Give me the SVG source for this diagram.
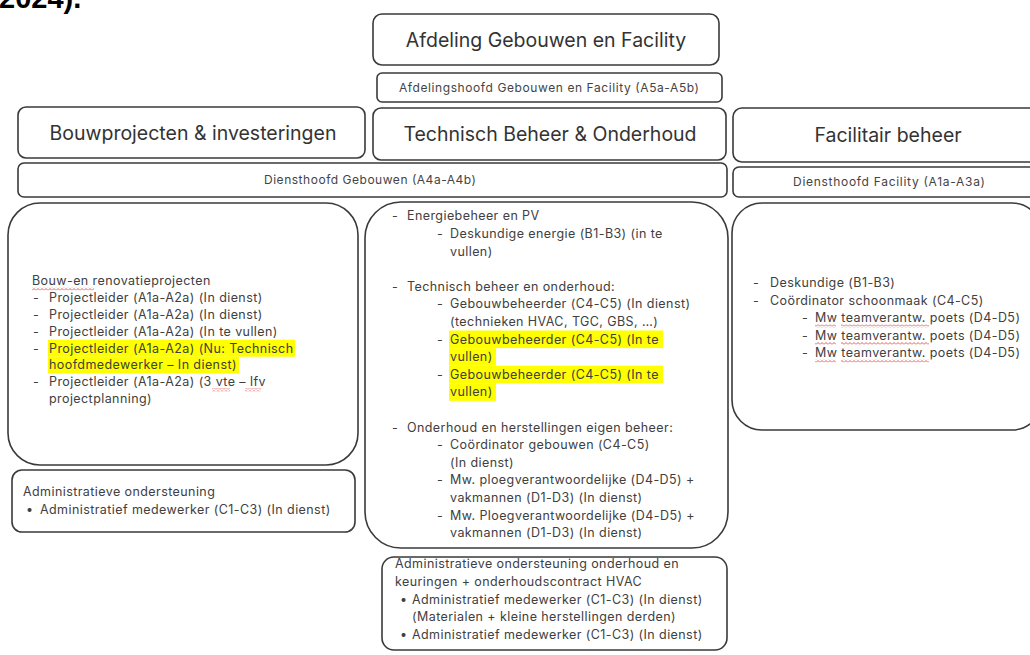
<svg xmlns="http://www.w3.org/2000/svg" width="1030" height="655" viewBox="0 0 1030 655">
<style>
  .box{fill:#fff;stroke:#3a3a3a;stroke-width:1.6}
  .title{font-family:Inter,"Liberation Sans",sans-serif;font-size:19.5px;fill:#333;text-anchor:middle}
  .small{font-family:Inter,"Liberation Sans",sans-serif;font-size:12px;fill:#444;text-anchor:middle}
  .t{font-family:Inter,"Liberation Sans",sans-serif;font-size:12.5px;fill:#404040;letter-spacing:0.42px}
  .hl{fill:#ffff00}
  .sq{fill:url(#squig)}
</style>
<defs>
  <pattern id="squig" x="0" y="0" width="4" height="3" patternUnits="userSpaceOnUse">
    <path d="M0,2.5 L2,0.5 L4,2.5" fill="none" stroke="#e03030" stroke-width="0.8"/>
  </pattern>
</defs>
<rect x="0" y="0" width="1030" height="655" fill="#fff"/>
<text x="-1" y="8" font-family="Liberation Sans, sans-serif" font-size="29" font-weight="bold" fill="#000">2024).</text>

<g id="connectors"></g>

<g id="n-afdeling">
  <rect class="box" x="373" y="14" width="346" height="51" rx="9"/>
  <text class="title" x="546" y="47">Afdeling Gebouwen en Facility</text>
</g>
<g id="n-afdelingshoofd">
  <rect class="box" x="377" y="73" width="345" height="29" rx="5"/>
  <text class="small" x="549" y="92" textLength="300" lengthAdjust="spacing">Afdelingshoofd Gebouwen en Facility (A5a-A5b)</text>
</g>
<g id="n-bouwprojecten">
  <rect class="box" x="18" y="107" width="347" height="51" rx="8"/>
  <text class="title" x="193" y="140">Bouwprojecten &amp; investeringen</text>
</g>
<g id="n-technisch">
  <rect class="box" x="373" y="108" width="353" height="52" rx="8"/>
  <text class="title" x="550" y="141">Technisch Beheer &amp; Onderhoud</text>
</g>
<g id="n-facilitair">
  <rect class="box" x="733" y="108" width="310" height="54" rx="9"/>
  <text class="title" x="888" y="142">Facilitair beheer</text>
</g>
<g id="n-diensthoofd-gebouwen">
  <rect class="box" x="18" y="163" width="709" height="34" rx="6"/>
  <text class="small" x="370" y="184" textLength="212" lengthAdjust="spacing">Diensthoofd Gebouwen (A4a-A4b)</text>
</g>
<g id="n-diensthoofd-facility">
  <rect class="box" x="733" y="167" width="310" height="30" rx="6"/>
  <text class="small" x="889" y="186" textLength="192" lengthAdjust="spacing">Diensthoofd Facility (A1a-A3a)</text>
</g>

<g id="n-bouw-renovatie">
  <rect class="box" x="8" y="203" width="350" height="262" rx="32"/>
  <rect class="hl" x="48" y="339.7" width="247" height="17"/>
  <rect class="hl" x="48" y="356.5" width="191" height="17"/>
  <text class="t" x="32" y="285.3">Bouw-en renovatieprojecten</text>
  <rect class="sq" x="32" y="287.5" width="62" height="3"/>
  <text class="t" x="33" y="302.1">-</text><text class="t" x="49" y="302.1">Projectleider (A1a-A2a) (In dienst)</text>
  <text class="t" x="33" y="318.9">-</text><text class="t" x="49" y="318.9">Projectleider (A1a-A2a) (In dienst)</text>
  <text class="t" x="33" y="335.7">-</text><text class="t" x="49" y="335.7">Projectleider (A1a-A2a) (In te vullen)</text>
  <text class="t" x="33" y="352.5">-</text><text class="t" x="49" y="352.5">Projectleider (A1a-A2a) (Nu: Technisch</text>
  <text class="t" x="49" y="369.3">hoofdmedewerker – In dienst)</text>
  <text class="t" x="33" y="386.1">-</text><text class="t" x="49" y="386.1">Projectleider (A1a-A2a) (3 vte – lfv</text>
  <rect class="sq" x="212" y="388.3" width="18" height="3"/>
  <rect class="sq" x="245" y="388.3" width="16" height="3"/>
  <text class="t" x="49" y="402.9">projectplanning)</text>
</g>

<g id="n-admin-left">
  <rect class="box" x="12" y="470" width="343" height="62" rx="10"/>
  <text class="t" x="23" y="496.3">Administratieve ondersteuning</text>
  <text class="t" x="26" y="514.3">•</text><text class="t" x="40" y="514.3">Administratief medewerker (C1-C3) (In dienst)</text>
</g>

<g id="n-technisch-content">
  <rect class="box" x="365" y="202" width="363" height="346" rx="36"/>
  <rect class="hl" x="449" y="330.5" width="214" height="17.6"/>
  <rect class="hl" x="449" y="348.1" width="47" height="17.6"/>
  <rect class="hl" x="449" y="365.7" width="214" height="17.6"/>
  <rect class="hl" x="449" y="383.3" width="47" height="17.6"/>
  <text class="t" x="392" y="220.3">-</text><text class="t" x="407" y="220.3">Energiebeheer en PV</text>
  <text class="t" x="437" y="237.9">-</text><text class="t" x="450" y="237.9">Deskundige energie (B1-B3) (in te</text>
  <text class="t" x="450" y="255.5">vullen)</text>
  <text class="t" x="392" y="290.7">-</text><text class="t" x="407" y="290.7">Technisch beheer en onderhoud:</text>
  <text class="t" x="437" y="308.3">-</text><text class="t" x="450" y="308.3">Gebouwbeheerder (C4-C5) (In dienst)</text>
  <text class="t" x="450" y="325.9">(technieken HVAC, TGC, GBS, …)</text>
  <text class="t" x="437" y="343.5">-</text><text class="t" x="450" y="343.5">Gebouwbeheerder (C4-C5) (In te</text>
  <text class="t" x="450" y="361.1">vullen)</text>
  <text class="t" x="437" y="378.7">-</text><text class="t" x="450" y="378.7">Gebouwbeheerder (C4-C5) (In te</text>
  <text class="t" x="450" y="396.3">vullen)</text>
  <text class="t" x="392" y="431.5">-</text><text class="t" x="407" y="431.5">Onderhoud en herstellingen eigen beheer:</text>
  <text class="t" x="437" y="449.1">-</text><text class="t" x="450" y="449.1">Coördinator gebouwen (C4-C5)</text>
  <text class="t" x="450" y="466.7">(In dienst)</text>
  <text class="t" x="437" y="484.3">-</text><text class="t" x="450" y="484.3">Mw. ploegverantwoordelijke (D4-D5) +</text>
  <text class="t" x="450" y="501.9">vakmannen (D1-D3) (In dienst)</text>
  <text class="t" x="437" y="519.5">-</text><text class="t" x="450" y="519.5">Mw. Ploegverantwoordelijke (D4-D5) +</text>
  <text class="t" x="450" y="537.1">vakmannen (D1-D3) (In dienst)</text>
</g>

<g id="n-admin-middle">
  <rect class="box" x="382" y="557" width="345" height="93" rx="12"/>
  <text class="t" x="395" y="568.3">Administratieve ondersteuning onderhoud en</text>
  <text class="t" x="395" y="585.9">keuringen + onderhoudscontract HVAC</text>
  <text class="t" x="400" y="603.5">•</text><text class="t" x="412" y="603.5">Administratief medewerker (C1-C3) (In dienst)</text>
  <text class="t" x="412" y="621.1">(Materialen + kleine herstellingen derden)</text>
  <text class="t" x="400" y="638.7">•</text><text class="t" x="412" y="638.7">Administratief medewerker (C1-C3) (In dienst)</text>
</g>

<g id="n-facilitair-content">
  <rect class="box" x="732" y="203" width="310" height="227" rx="30"/>
  <text class="t" x="753" y="287.3">-</text><text class="t" x="770" y="287.3">Deskundige (B1-B3)</text>
  <text class="t" x="753" y="304.8">-</text><text class="t" x="770" y="304.8">Coördinator schoonmaak (C4-C5)</text>
  <text class="t" x="802" y="322.3">-</text><text class="t" x="815" y="322.3">Mw teamverantw. poets (D4-D5)</text>
  <rect class="sq" x="815" y="324.5" width="21" height="3"/>
  <rect class="sq" x="841" y="324.5" width="88" height="3"/>
  <text class="t" x="802" y="339.8">-</text><text class="t" x="815" y="339.8">Mw teamverantw. poets (D4-D5)</text>
  <rect class="sq" x="815" y="342" width="21" height="3"/>
  <rect class="sq" x="841" y="342" width="88" height="3"/>
  <text class="t" x="802" y="357.3">-</text><text class="t" x="815" y="357.3">Mw teamverantw. poets (D4-D5)</text>
  <rect class="sq" x="815" y="359.5" width="21" height="3"/>
  <rect class="sq" x="841" y="359.5" width="88" height="3"/>
</g>
</svg>
